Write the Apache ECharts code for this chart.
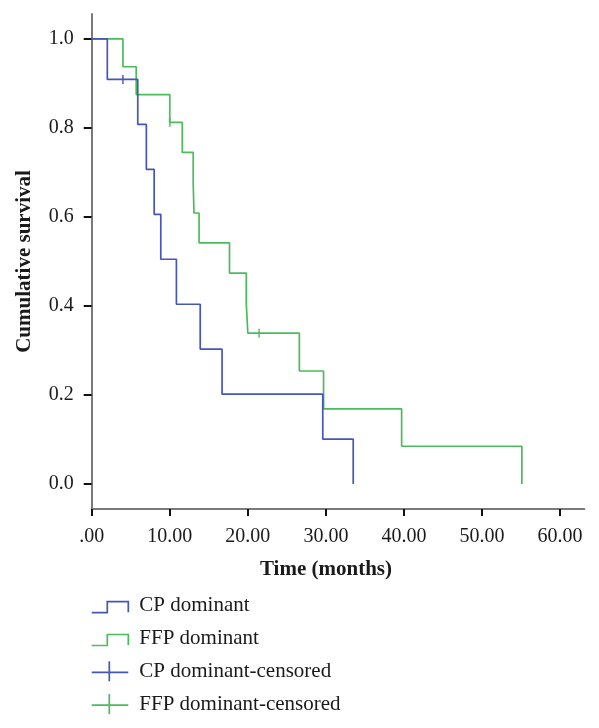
<!DOCTYPE html>
<html>
<head>
<meta charset="utf-8">
<script src="https://cdn.jsdelivr.net/npm/echarts@6/dist/echarts.min.js"></script>
<style>html,body{margin:0;padding:0;background:#fff}#c{width:599px;height:728px}</style>
</head>
<body>
<div id="c"></div>
<script>
// Kaplan-Meier data
const cpTimes = [0, 2.0, 5.9, 7.0, 8.0, 8.85, 10.85, 13.9, 16.7, 29.6, 33.5];
const cpSurv  = [1, 0.909, 0.808, 0.707, 0.606, 0.505, 0.404, 0.303, 0.202, 0.101, 0];
const cpCensorTimes = [4.0];
const cpCensorSurv  = [0.909];

const ffpTimes = [0, 4.0, 5.7, 10.0, 11.6, 13.0, 13.1, 13.75, 17.65, 19.8, 20.0, 26.6, 29.7, 39.7, 55.1];
const ffpSurv  = [1, 0.9375, 0.875, 0.8125, 0.745, 0.677, 0.609, 0.542, 0.474, 0.406, 0.339, 0.254, 0.169, 0.085, 0];
const ffpCensorTimes = [10.0, 21.45];
const ffpCensorSurv  = [0.8125, 0.339];

const xTicks = [0, 10, 20, 30, 40, 50, 60];
const yTicks = [0, 0.2, 0.4, 0.6, 0.8, 1.0];
const legendNames = ['CP dominant', 'FFP dominant', 'CP dominant-censored', 'FFP dominant-censored'];

const BLUE = '#4656b4';
const GREEN = '#4cbb5c';
const FONT = '"Liberation Serif", "Times New Roman", serif';
const TXT = '#1a1a1a';

const zip = (a, b) => a.map((v, i) => [v, b[i]]);

const chart = echarts.init(document.getElementById('c'), null, {renderer: 'canvas'});

function legendRow(i, color, step) {
  const cy = 605.7 + i * 32.8;
  const items = [];
  if (step) {
    items.push({type: 'polyline', shape: {points: [[91.7, cy + 7], [107.3, cy + 7], [107.3, cy - 4], [128.3, cy - 4], [128.3, cy + 6.5]]},
      style: {stroke: color, lineWidth: 1.7, fill: null}});
  } else {
    items.push({type: 'line', shape: {x1: 91.7, y1: cy + 1, x2: 128.3, y2: cy + 1}, style: {stroke: color, lineWidth: 1.7}});
    items.push({type: 'line', shape: {x1: 109.3, y1: cy - 10, x2: 109.3, y2: cy + 10}, style: {stroke: color, lineWidth: 1.7}});
  }
  items.push({type: 'text', x: 139.3, y: cy, style: {text: legendNames[i], font: '21px ' + FONT, fill: TXT, textAlign: 'left', textVerticalAlign: 'middle'}});
  return items;
}

const option = {
  backgroundColor: '#fff',
  animation: false,
  grid: {left: 91.7, right: 14.7, top: 14, bottom: 219, containLabel: false},
  xAxis: {
    type: 'value', min: 0, max: 63.1,
    axisLine: {show: true, onZero: false, lineStyle: {color: '#7a7a7a', width: 2}},
    axisTick: {show: true, length: 7, lineStyle: {color: '#111', width: 2}, customValues: xTicks},
    axisLabel: {customValues: xTicks, margin: 18, fontFamily: FONT, fontSize: 20, color: TXT,
      formatter: v => v === 0 ? '.00' : v.toFixed(2)},
    splitLine: {show: false}
  },
  yAxis: {
    type: 'value', min: -0.056, max: 1.056,
    axisLine: {show: true, onZero: false, lineStyle: {color: '#7a7a7a', width: 2}},
    axisTick: {show: true, length: 8, lineStyle: {color: '#111', width: 2}, customValues: yTicks},
    axisLabel: {customValues: yTicks, margin: 18, fontFamily: FONT, fontSize: 20, color: TXT,
      formatter: v => v.toFixed(1)},
    splitLine: {show: false}
  },
  series: [
    {name: legendNames[0], type: 'line', step: 'end', data: zip(cpTimes, cpSurv), showSymbol: false,
      lineStyle: {color: BLUE, width: 1.7}, itemStyle: {color: BLUE}, z: 3},
    {name: legendNames[1], type: 'line', step: 'end', data: zip(ffpTimes, ffpSurv), showSymbol: false,
      lineStyle: {color: GREEN, width: 1.7}, itemStyle: {color: GREEN}, z: 2},
    {name: legendNames[2], type: 'scatter', data: zip(cpCensorTimes, cpCensorSurv), symbol: 'rect', symbolSize: [1.8, 9],
      itemStyle: {color: BLUE}, z: 4},
    {name: legendNames[3], type: 'scatter', data: zip(ffpCensorTimes, ffpCensorSurv), symbol: 'rect', symbolSize: [1.8, 9],
      itemStyle: {color: GREEN}, z: 4}
  ],
  graphic: [
    {type: 'text', x: 326, y: 570, style: {text: 'Time (months)', font: 'bold 21px ' + FONT, fill: TXT, textAlign: 'center', textVerticalAlign: 'middle'}},
    {type: 'text', x: 25, y: 261.5, rotation: Math.PI / 2, style: {text: 'Cumulative survival', font: 'bold 21px ' + FONT, fill: TXT, textAlign: 'center', textVerticalAlign: 'middle'}},
    ...legendRow(0, BLUE, true),
    ...legendRow(1, GREEN, true),
    ...legendRow(2, BLUE, false),
    ...legendRow(3, GREEN, false)
  ]
};
chart.setOption(option);
</script>
</body>
</html>
